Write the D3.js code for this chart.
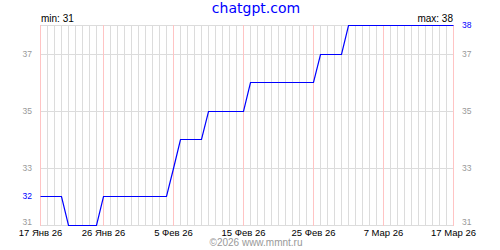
<!DOCTYPE html>
<html>
<head>
<meta charset="utf-8">
<script src="https://cdn.jsdelivr.net/npm/d3@7"></script>
<style>
    body { margin: 0; background: #fff; }
    #chart { width: 500px; height: 250px; }
    text { font-family: "Liberation Sans", Arial, sans-serif; }
</style>
</head>
<body>
<div id="chart"></div>
<script>

// data, one value per day starting on startDate
const startDate = "2026-01-17";
const endDate = "2026-03-17";
const values = [
    32, 32, 32, 32, 31, 31, 31, 31, 31, 32,
    32, 32, 32, 32, 32, 32, 32, 32, 32, 33,
    34, 34, 34, 34, 35, 35, 35, 35, 35, 35,
    36, 36, 36, 36, 36, 36, 36, 36, 36, 36,
    37, 37, 37, 37, 38, 38, 38, 38, 38, 38,
    38, 38, 38, 38, 38, 38, 38, 38, 38, 38
];

// x axis labels
const xTickDates = ["2026-01-17", "2026-01-26", "2026-02-05", "2026-02-15", "2026-02-25", "2026-03-07", "2026-03-17"];
const xTickLabels = ["17 Янв 26", "26 Янв 26", "5 Фев 26", "15 Фев 26", "25 Фев 26", "7 Мар 26", "17 Мар 26"];

// y axis
const yDomain = [31, 38];
const yTicks = [31, 33, 35, 37];
const yGrid = [31, 33, 35, 37, 38];

const titleText = "chatgpt.com";
const footerText = "©2026 www.mmnt.ru";


class StepVis {

    constructor(parentElement) {
        this.parentElement = parentElement;
        this.parseDate = d3.utcParse("%Y-%m-%d");
        this.initVis();
    }

    initVis() {
        let vis = this;

        vis.margin = {top: 25, right: 47, bottom: 25, left: 40};
        vis.width = 500;
        vis.height = 250;

        vis.svg = d3.select("#" + vis.parentElement).append("svg")
            .attr("width", vis.width)
            .attr("height", vis.height);

        // half pixel offsets keep the 1px lines crisp
        vis.x = d3.scaleUtc()
            .domain([vis.parseDate(startDate), vis.parseDate(endDate)])
            .range([vis.margin.left + 0.5, vis.width - vis.margin.right + 0.5]);

        vis.y = d3.scaleLinear()
            .domain(yDomain)
            .range([vis.height - vis.margin.bottom, vis.margin.top]);

        vis.px = v => Math.round(vis.y(v)) + 0.5;

        vis.wrangleData();
    }

    wrangleData() {
        let vis = this;

        let start = vis.parseDate(startDate);
        vis.displayData = values.map((v, i) => ({date: d3.utcDay.offset(start, i), value: v}));

        vis.days = d3.utcDay.range(start, d3.utcDay.offset(vis.parseDate(endDate), 1));
        vis.majorDates = xTickDates.map(d => vis.parseDate(d).getTime());

        vis.updateVis();
    }

    updateVis() {
        let vis = this;
        let top = vis.margin.top;
        let bottom = vis.height - vis.margin.bottom;

        // daily vertical grid
        vis.svg.append("g").selectAll("line")
            .data(vis.days.filter(d => !vis.majorDates.includes(d.getTime())))
            .enter().append("line")
            .attr("x1", d => vis.x(d)).attr("x2", d => vis.x(d))
            .attr("y1", top).attr("y2", bottom)
            .attr("stroke", "#dcdcdc");

        // horizontal grid
        vis.svg.append("g").selectAll("line")
            .data(yGrid)
            .enter().append("line")
            .attr("x1", vis.margin.left).attr("x2", vis.width - vis.margin.right + 1)
            .attr("y1", d => vis.px(d)).attr("y2", d => vis.px(d))
            .attr("stroke", "#dcdcdc");

        // red lines on labelled dates
        vis.svg.append("g").selectAll("line")
            .data(xTickDates)
            .enter().append("line")
            .attr("x1", d => vis.x(vis.parseDate(d))).attr("x2", d => vis.x(vis.parseDate(d)))
            .attr("y1", top).attr("y2", bottom + 1)
            .attr("stroke", "#ffc4c4");

        // step line
        let line = d3.line()
            .x(d => vis.x(d.date))
            .y(d => vis.px(d.value));

        vis.svg.append("path")
            .datum(vis.displayData)
            .attr("d", line)
            .attr("fill", "none")
            .attr("stroke", "#0000ff")
            .attr("stroke-width", 1.2);

        // x labels
        vis.svg.append("g").selectAll("text")
            .data(xTickDates)
            .enter().append("text")
            .attr("x", d => vis.x(vis.parseDate(d)))
            .attr("y", 236)
            .attr("text-anchor", "middle")
            .attr("font-size", "9.5px")
            .attr("fill", "#000")
            .text((d, i) => xTickLabels[i]);

        // y labels, both sides (bottom one sits a bit higher)
        let leftX = vis.margin.left - 8;
        let rightX = vis.width - vis.margin.right + 9;
        let labelY = d => d === yDomain[0] ? vis.y(d) - 2.5 : vis.y(d);

        vis.svg.append("g").selectAll("text")
            .data(yTicks)
            .enter().append("text")
            .attr("x", leftX)
            .attr("y", labelY)
            .attr("dy", "0.35em")
            .attr("text-anchor", "end")
            .attr("font-size", "8.5px")
            .attr("fill", "#999")
            .text(d => d);

        vis.svg.append("g").selectAll("text")
            .data(yTicks)
            .enter().append("text")
            .attr("x", rightX)
            .attr("y", labelY)
            .attr("dy", "0.35em")
            .attr("font-size", "8.5px")
            .attr("fill", "#999")
            .text(d => d);

        // first and last values in blue
        let first = values[0];
        let last = values[values.length - 1];

        vis.svg.append("text")
            .attr("x", leftX).attr("y", vis.y(first)).attr("dy", "0.35em")
            .attr("text-anchor", "end")
            .attr("font-size", "8.5px")
            .attr("fill", "#0000ff")
            .text(first);

        vis.svg.append("text")
            .attr("x", rightX).attr("y", vis.y(last)).attr("dy", "0.35em")
            .attr("font-size", "8.5px")
            .attr("fill", "#0000ff")
            .text(last);

        // min / max
        vis.svg.append("text")
            .attr("x", vis.margin.left + 1).attr("y", 22)
            .attr("font-size", "10px")
            .text("min: " + d3.min(values));

        vis.svg.append("text")
            .attr("x", vis.width - vis.margin.right).attr("y", 22)
            .attr("text-anchor", "end")
            .attr("font-size", "10px")
            .text("max: " + d3.max(values));

        // title and footer
        vis.svg.append("text")
            .attr("x", 256).attr("y", 13)
            .attr("text-anchor", "middle")
            .style("font-family", "'DejaVu Sans', sans-serif")
            .attr("font-size", "14px")
            .attr("fill", "#0000ff")
            .text(titleText);

        vis.svg.append("text")
            .attr("x", 256).attr("y", 246)
            .attr("text-anchor", "middle")
            .attr("font-size", "10px")
            .attr("fill", "#999")
            .text(footerText);
    }
}

let myStepVis = new StepVis("chart");

</script>
</body>
</html>
